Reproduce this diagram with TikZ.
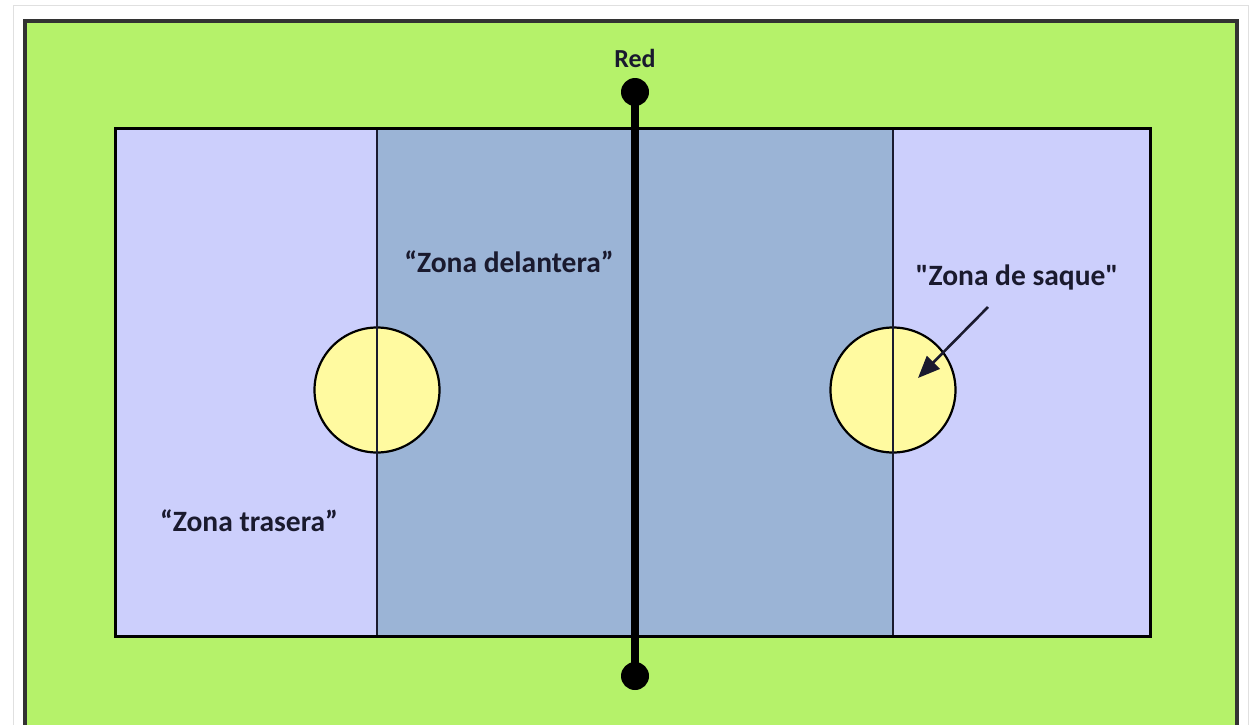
\documentclass[tikz,border=0pt]{standalone}
\usepackage{fontspec}
\setmainfont{Carlito}[Ligatures=TeXOff]
\usetikzlibrary{arrows.meta}
\definecolor{grass}{RGB}{181,242,106}
\definecolor{backzone}{RGB}{204,207,252}
\definecolor{frontzone}{RGB}{155,180,214}
\definecolor{servezone}{RGB}{255,250,160}
\definecolor{ink}{RGB}{26,26,46}
\tikzset{
  zonelabel/.style={font=\fontsize{29.5}{32}\selectfont\bfseries, text=ink, inner sep=0pt},
  servecircle/.style={circle, draw=black, line width=2.2pt, fill=servezone, minimum size=125pt, inner sep=0pt},
  netdot/.style={circle, fill=black, minimum size=28pt, inner sep=0pt},
  divider/.style={draw=ink, line width=2pt},
}
\begin{document}
\begin{tikzpicture}[x=1pt,y=-1pt]
\useasboundingbox (0,0) rectangle (1254,724);
\fill[white] (0,0) rectangle (1254,724);
\draw[black!12, line width=0.8pt] (13,5) -- (1248,5);
\draw[black!12, line width=0.8pt] (13,5) -- (13,730);
\draw[black!12, line width=0.8pt] (1248,5) -- (1248,730);
% grass
\draw[fill=grass, draw=black!80, line width=3.5pt] (25,21) rectangle (1237,740);
% court zones
\fill[backzone] (115,128) rectangle (377,636);
\fill[frontzone] (377,128) rectangle (893,636);
\fill[backzone] (893,128) rectangle (1150,636);
% serving circles
\node[servecircle] (lc) at (377,390) {};
\node[servecircle] (rc) at (893,390) {};
% dividers
\coordinate (dlt) at (377,128); \coordinate (dlb) at (377,636);
\coordinate (drt) at (893,128); \coordinate (drb) at (893,636);
\draw[divider] (dlt) -- (dlb);
\draw[divider] (drt) -- (drb);
% court border
\draw[black, line width=3pt] (115,128) rectangle (1150,636);
% net
\node[netdot] (nt) at (635,92) {};
\node[netdot] (nb) at (635,676) {};
\draw[black, line width=8pt] (nt.center) -- (nb.center);
\node[zonelabel, font=\fontsize{26}{28}\selectfont\bfseries] (red) at (635,58) {Red};
% labels
\node[zonelabel] (del) at (509,262) {“Zona delantera”};
\node[zonelabel] (tra) at (249,521) {“Zona trasera”};
\node[zonelabel] (saq) at (1017,277) {"Zona de saque"};
\coordinate (as) at (988,307);
\coordinate (ae) at (918,378);
\draw[ink, line width=2.6pt, -{Triangle[length=22pt,width=18pt]}] (as) -- (ae);
\end{tikzpicture}
\end{document}
